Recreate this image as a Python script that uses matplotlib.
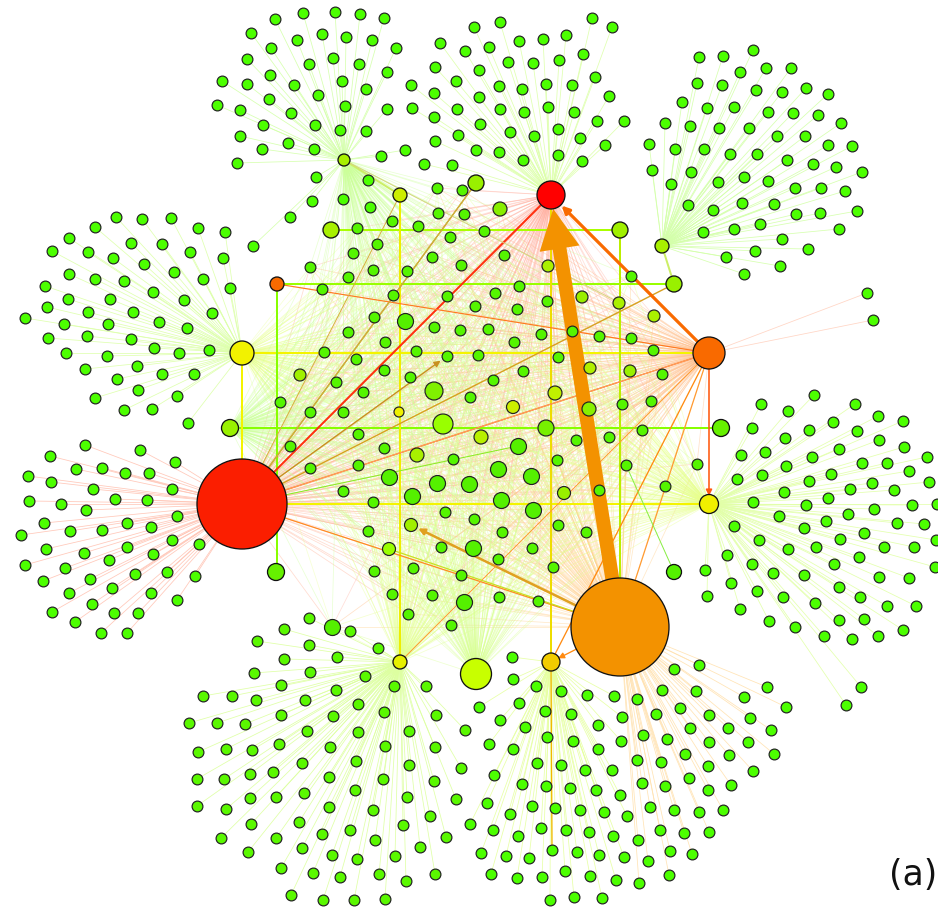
import matplotlib
matplotlib.use("Agg")
import matplotlib.pyplot as plt
from matplotlib.collections import LineCollection
from matplotlib.patches import FancyArrowPatch

DPI = 100
W, H = 938, 907

# hub nodes (pixel coordinates, y pointing down)
hub_names = ["red_big", "orange_big", "red_top", "orange_right", "orange_small",
             "yellow_left", "yellow_right", "yellow_bottom", "yg_big", "gold",
             "tl_hub", "tr_hub", "g400", "g476", "g331", "g620", "g674",
             "g230", "g721", "g276", "g674b"]
hub_x = [242, 620, 551, 709, 277, 242, 709, 400, 476, 551,
         344, 662, 400, 476, 331, 620, 674, 230, 721, 276, 674]
hub_y = [504, 627, 195, 353, 284, 353, 504, 662, 674, 662,
         160, 246, 195, 183, 230, 230, 284, 428, 428, 572, 572]
hub_r = [45, 49, 14, 16, 7, 12, 9.5, 7, 15.5, 9,
         6, 7, 7, 8, 8, 8, 8, 8.5, 8.5, 8.5, 7.5]
hub_color = ["#fb1e00", "#f39200", "#ff0000", "#f96a00", "#f96a00",
             "#f2f200", "#f0f000", "#e6f000", "#c8ff00", "#f2cc00",
             "#a8f000", "#a8f000", "#ccee00", "#99f000", "#a8f000", "#a0f000",
             "#99f000", "#99f000", "#66f000", "#66f000", "#55f000"]

# leaf clusters
tl_leaves = [(275, 19), (303, 13), (251, 33), (297, 40), (271, 48), (247, 59), (309, 64), (270, 75),
             (294, 85), (222, 81), (247, 84), (269, 99), (318, 95), (217, 105), (240, 110), (291, 113),
             (263, 125), (315, 125), (240, 136), (288, 143), (262, 149), (314, 149), (237, 163),
             (316, 177), (312, 201), (290, 217), (253, 246), (335, 12), (360, 14), (384, 18), (322, 34),
             (346, 37), (372, 40), (396, 48), (333, 58), (359, 64), (387, 72), (342, 81), (366, 89),
             (345, 106), (387, 109), (340, 130), (366, 131), (368, 180), (343, 199), (370, 207),
             (381, 156), (405, 150)]
tm_leaves = [(474, 27), (500, 22), (592, 18), (612, 27), (440, 43), (465, 51), (489, 47), (519, 41),
             (543, 39), (566, 35), (435, 67), (479, 70), (508, 62), (533, 63), (559, 60), (583, 54),
             (411, 85), (434, 93), (456, 81), (499, 86), (522, 89), (546, 84), (572, 85), (595, 77),
             (412, 108), (434, 117), (457, 109), (479, 97), (500, 109), (524, 112), (548, 107),
             (574, 112), (609, 96), (435, 141), (458, 135), (480, 124), (510, 132), (534, 136),
             (558, 129), (580, 138), (597, 121), (624, 121), (605, 145), (476, 150), (499, 152),
             (523, 160), (558, 155), (582, 161), (424, 164), (452, 165)]
tr_leaves = [(699, 57), (723, 56), (753, 50), (697, 83), (722, 85), (740, 72), (766, 68), (791, 68),
             (682, 102), (707, 108), (734, 107), (756, 90), (782, 92), (806, 88), (828, 94), (665, 123),
             (690, 126), (719, 128), (749, 128), (768, 112), (793, 113), (818, 115), (841, 123),
             (649, 144), (675, 149), (704, 149), (730, 154), (757, 154), (777, 136), (805, 136),
             (828, 145), (852, 146), (652, 170), (671, 184), (691, 172), (718, 182), (744, 177),
             (768, 181), (787, 160), (813, 164), (836, 167), (862, 172), (688, 205), (713, 210),
             (742, 203), (774, 204), (795, 188), (821, 188), (845, 191), (703, 232), (734, 229),
             (760, 224), (796, 214), (820, 213), (857, 211), (839, 229), (782, 239), (755, 251),
             (808, 249), (726, 257), (780, 266), (744, 274)]
lu_leaves = [(116, 217), (142, 219), (171, 218), (95, 227), (198, 228), (225, 232), (69, 238),
             (131, 243), (162, 244), (52, 251), (88, 252), (190, 252), (113, 258), (223, 258),
             (144, 264), (174, 272), (69, 274), (95, 279), (124, 281), (203, 279), (45, 286),
             (230, 288), (68, 299), (153, 292), (110, 299), (184, 300), (47, 307), (25, 318),
             (88, 312), (133, 312), (159, 322), (212, 313), (64, 324), (108, 324), (187, 328),
             (48, 338), (87, 336), (131, 339), (66, 353), (107, 356), (154, 348), (179, 353),
             (209, 350), (85, 369), (137, 366), (117, 379), (162, 374), (194, 374), (95, 398),
             (138, 390), (177, 396), (124, 410), (152, 409), (188, 423)]
ll_leaves = [(85, 445), (140, 450), (50, 456), (175, 462), (76, 469), (102, 468), (125, 473),
             (149, 473), (28, 476), (51, 482), (93, 489), (172, 489), (29, 501), (61, 504),
             (115, 499), (147, 500), (86, 510), (44, 523), (127, 523), (177, 516), (70, 531),
             (102, 530), (151, 527), (21, 535), (46, 549), (84, 553), (127, 547), (172, 540),
             (199, 544), (153, 554), (25, 565), (65, 568), (109, 560), (43, 581), (90, 579),
             (135, 574), (167, 572), (195, 576), (69, 593), (112, 588), (151, 593), (177, 600),
             (92, 604), (52, 612), (114, 613), (138, 613), (75, 622), (101, 633), (127, 633)]
bl_leaves = [(309, 618), (284, 629), (257, 641), (309, 645), (284, 659), (254, 673), (310, 672),
             (281, 685), (203, 696), (232, 696), (256, 700), (305, 700), (189, 723), (217, 723),
             (245, 724), (281, 715), (307, 731), (198, 752), (226, 749), (252, 750), (279, 744),
             (302, 763), (197, 779), (224, 779), (250, 774), (273, 772), (304, 793), (197, 806),
             (226, 809), (250, 798), (276, 797), (299, 822), (221, 838), (251, 824), (276, 838),
             (302, 848), (248, 852), (281, 868), (291, 895), (350, 631), (378, 648), (337, 657),
             (365, 676), (394, 686), (426, 686), (336, 690), (358, 704), (384, 712), (436, 715),
             (333, 716), (358, 732), (409, 731), (465, 730), (330, 747), (385, 746), (435, 747),
             (356, 761), (409, 765), (461, 768), (329, 777), (383, 779), (434, 781), (355, 790),
             (407, 797), (456, 799), (329, 807), (373, 810), (430, 816), (403, 825), (350, 830),
             (322, 834), (375, 840), (446, 837), (420, 847), (332, 855), (357, 859), (395, 856),
             (313, 873), (340, 877), (379, 874), (406, 881), (435, 874), (323, 900), (354, 900),
             (385, 899)]
br_leaves = [(512, 657), (513, 679), (479, 707), (519, 703), (536, 686), (561, 691), (587, 695),
             (614, 696), (500, 720), (525, 727), (545, 711), (571, 714), (598, 725), (622, 717),
             (489, 744), (513, 749), (547, 737), (573, 741), (598, 749), (621, 741), (494, 775),
             (537, 763), (561, 765), (585, 770), (612, 770), (522, 784), (546, 786), (570, 788),
             (596, 790), (620, 795), (487, 803), (510, 814), (532, 806), (555, 808), (580, 810),
             (604, 812), (627, 816), (470, 824), (493, 830), (518, 836), (541, 828), (566, 830),
             (589, 832), (613, 836), (481, 853), (506, 856), (529, 858), (552, 850), (577, 852),
             (599, 855), (624, 857), (491, 874), (517, 878), (542, 877), (565, 871), (590, 876),
             (616, 880), (550, 900), (574, 897), (602, 898)]
ob_leaves = [(699, 665), (674, 669), (767, 687), (662, 690), (696, 691), (744, 697), (786, 707),
             (637, 699), (680, 708), (656, 714), (709, 715), (750, 718), (690, 728), (728, 728),
             (771, 730), (643, 735), (667, 739), (709, 742), (748, 742), (685, 754), (729, 755),
             (774, 754), (637, 760), (661, 762), (708, 766), (753, 771), (642, 783), (665, 786),
             (689, 778), (708, 790), (731, 785), (650, 807), (674, 810), (699, 812), (723, 810),
             (660, 830), (684, 833), (709, 832), (638, 840), (670, 851), (692, 854), (648, 861),
             (669, 875), (639, 883)]
r_leaves = [(814, 395), (855, 404), (761, 404), (788, 411), (878, 416), (903, 421), (752, 428),
            (785, 438), (809, 430), (833, 422), (857, 431), (879, 440), (904, 447), (927, 457),
            (741, 455), (765, 452), (786, 466), (812, 457), (839, 449), (862, 463), (887, 463),
            (909, 471), (929, 482), (737, 479), (762, 475), (809, 481), (831, 474), (850, 489),
            (872, 483), (894, 490), (753, 502), (784, 492), (806, 505), (828, 498), (848, 514),
            (874, 509), (912, 505), (937, 504), (734, 526), (779, 516), (804, 528), (826, 521),
            (864, 533), (897, 523), (924, 524), (759, 540), (788, 549), (816, 547), (840, 539),
            (859, 557), (884, 547), (914, 547), (936, 540), (727, 555), (752, 564), (773, 573),
            (804, 575), (834, 564), (879, 577), (909, 578), (935, 567), (705, 570), (731, 583),
            (757, 591), (783, 597), (815, 603), (839, 587), (860, 597), (887, 606), (916, 606),
            (707, 596), (740, 609), (769, 621), (795, 627), (824, 636), (839, 620), (852, 639),
            (864, 619), (878, 636), (903, 630), (861, 687), (846, 705)]
far_leaves = [(867, 293), (873, 320)]

cluster_leaves = [tl_leaves, tm_leaves, tr_leaves, lu_leaves, ll_leaves, bl_leaves,
                  br_leaves, ob_leaves, r_leaves, far_leaves]
cluster_hub = ["tl_hub", "red_top", "tr_hub", "yellow_left", "red_big", "yellow_bottom",
               "gold", "orange_big", "yellow_right", "orange_right"]
cluster_edge = ["#d4ffaa", "#ddffaa", "#d4ffaa", "#ddffaa", "#ffc4b4", "#ddffa0",
                "#e6ffa0", "#ffe2b0", "#e2ffa8", "#ffd2c0"]
cluster_fill = ["#4cff00", "#4cff00", "#4cff00", "#4cff00", "#4cff00", "#5af800",
                "#4cff00", "#4cff00", "#4cff00", "#4cff00"]

# central nodes
center_small = [(437, 188), (462, 190), (438, 213), (464, 214), (357, 228), (353, 253), (377, 244),
                (310, 267), (348, 277), (373, 270), (407, 271), (432, 257), (392, 221), (418, 226),
                (450, 237), (484, 231), (461, 265), (504, 255), (322, 289), (393, 295), (447, 296),
                (495, 293), (519, 286), (547, 301), (475, 306), (517, 309), (631, 276), (374, 317),
                (434, 327), (460, 330), (488, 329), (541, 334), (572, 331), (599, 336), (348, 332),
                (385, 342), (514, 342), (324, 352), (356, 359), (416, 351), (447, 356), (478, 355),
                (558, 357), (384, 370), (410, 377), (493, 380), (523, 371), (336, 382), (363, 392),
                (470, 397), (343, 412), (358, 434), (576, 440), (609, 437), (384, 448), (453, 459),
                (557, 460), (626, 465), (358, 465), (343, 491), (599, 490), (373, 502), (445, 512),
                (474, 519), (368, 531), (502, 532), (558, 525), (586, 532), (441, 547), (532, 548),
                (498, 559), (374, 571), (413, 568), (461, 575), (553, 567), (392, 594), (432, 595),
                (499, 597), (538, 601), (310, 412), (310, 468), (280, 402), (290, 446),
                (653, 350), (662, 374), (631, 338), (651, 401), (642, 430), (697, 464), (665, 486),
                (408, 614), (451, 625), (622, 404)]
center_large = [(405, 321), (518, 446), (498, 469), (437, 483), (469, 484), (412, 496), (531, 476),
                (501, 500), (533, 510), (389, 477), (473, 548), (464, 602), (332, 627)]
center_tint = [(399, 412), (513, 407), (555, 393), (481, 437), (417, 455), (590, 368), (589, 409),
               (411, 525), (564, 493), (500, 209), (548, 266), (582, 297), (619, 303), (630, 371),
               (654, 316), (389, 549), (434, 391), (443, 424), (546, 428), (300, 375)]
center_tint_color = ["#eef000", "#ccee00", "#c0f000", "#b8f000", "#a8f000", "#b0f000", "#88f000",
                     "#a0f000", "#99f000", "#88ee00", "#aaf000", "#99ee00", "#aaf000", "#99f000",
                     "#aaf000", "#99ff00", "#80f000", "#99ff00", "#77f000", "#a0f000"]
center_tint_r = [5, 6.5, 7, 7, 7, 6, 7, 6.5, 6.5, 7, 6, 6, 6, 6, 6, 6.5, 9, 10, 8, 6]

mesh_hubs = ["red_big", "orange_big", "orange_right", "red_top", "yellow_left",
             "yellow_right", "yellow_bottom", "yg_big", "tl_hub", "g230"]
mesh_color = ["#ffb49a", "#ffd08c", "#ffc08c", "#ffb0a0", "#e8ff8c",
              "#e8ff8c", "#e4ff90", "#d8ff90", "#ccff99", "#ccff99"]
mesh_alpha = [0.45, 0.45, 0.45, 0.4, 0.35, 0.4, 0.4, 0.4, 0.4, 0.4]

# grid of brighter hub-to-hub lines
grid_from = ["g331", "orange_small", "yellow_left", "g230", "red_big", "g400", "red_top",
             "yellow_left", "orange_small", "g620", "tl_hub", "tr_hub"]
grid_to = [(620, 230), (674, 284), (709, 353), (721, 428), (709, 504), (400, 662), (551, 662),
           (242, 504), (277, 572), (620, 627), (400, 195), (674, 284)]
grid_color = ["#aaff00", "#99ff00", "#f4f400", "#88ff00", "#f4f400", "#eeee00", "#eedd00",
              "#f4f400", "#88ff00", "#bbee00", "#ccee66", "#ccee66"]

# coloured directed / highlighted edges
strong_from = ["red_big", "red_big", "red_big", "red_big", "red_big", "red_big", "red_big",
               "orange_right", "orange_right", "orange_right", "orange_big", "orange_big",
               "orange_big", "yellow_bottom", "gold", "orange_big", "red_big", "tl_hub",
               "g476", "orange_right", "g674b"]
strong_to = [(551, 195), (476, 183), (674, 284), (447, 356), (709, 353), (620, 627), (518, 446),
             (551, 662), (277, 284), (709, 504), (411, 525), (551, 662), (709, 353),
             (709, 353), (552, 850), (389, 549), (400, 195), (620, 303), (242, 504), (242, 504),
             (626, 465)]
strong_color = ["#ff3010", "#c8a020", "#d8a020", "#c89020", "#ff6a10", "#ff8a20", "#88ee22",
                "#ff8a10", "#ff7a20", "#ff5a10", "#e0a020", "#ff8a10", "#ff9a30",
                "#ff9a30", "#f2b800", "#c8e020", "#d8b040", "#d8d080", "#d0b040", "#ffa060",
                "#88ee44"]
strong_w = [2.0, 1.4, 1.4, 1.4, 1.2, 1.2, 1.0, 1.3, 1.2, 1.6, 2.5, 1.3, 1.2,
            1.0, 1.3, 1.2, 1.0, 0.9, 1.0, 1.0, 1.0]
strong_arrow = [False, False, False, True, False, True, False, False, False, True, True, True,
                False, False, False, False, False, False, False, False, False]


def px(v):
    return v * 72.0 / DPI


def size(r):
    return (2 * r * 72.0 / DPI) ** 2


hub_pos = {n: (x, y) for n, x, y in zip(hub_names, hub_x, hub_y)}
hub_rad = {n: r for n, r in zip(hub_names, hub_r)}

fig = plt.figure(figsize=(W / DPI, H / DPI), dpi=DPI)
ax = fig.add_axes([0, 0, 1, 1])
ax.set_xlim(0, W)
ax.set_ylim(H, 0)
ax.axis("off")

# faint leaf edges
for leaves, hub, ec in zip(cluster_leaves, cluster_hub, cluster_edge):
    segs = [[hub_pos[hub], p] for p in leaves]
    ax.add_collection(LineCollection(segs, colors=ec, linewidths=px(0.8), alpha=0.9, zorder=1))

# faint mesh edges from centre nodes to the main hubs
centre_all = center_small + center_large + center_tint
for hub, ec, al in zip(mesh_hubs, mesh_color, mesh_alpha):
    segs = [[hub_pos[hub], p] for p in centre_all]
    ax.add_collection(LineCollection(segs, colors=ec, linewidths=px(0.8), alpha=al, zorder=1))

# grid lines
segs = [[hub_pos[a], b] for a, b in zip(grid_from, grid_to)]
ax.add_collection(LineCollection(segs, colors=grid_color, linewidths=px(2.0), zorder=2))

# highlighted edges
for a, b, c, w, arr in zip(strong_from, strong_to, strong_color, strong_w, strong_arrow):
    pa = hub_pos[a]
    if arr:
        ax.add_patch(FancyArrowPatch(pa, b, arrowstyle="-|>", mutation_scale=9,
                                     color=c, lw=px(w), shrinkA=0, shrinkB=px(8), zorder=3))
    else:
        ax.plot([pa[0], b[0]], [pa[1], b[1]], color=c, lw=px(w), zorder=3)

# big arrow orange_big -> red_top, and orange_right -> red_top
ax.add_patch(FancyArrowPatch(hub_pos["orange_big"], hub_pos["red_top"],
                             arrowstyle="simple,head_length=1.45,head_width=1.45,tail_width=0.5",
                             mutation_scale=20, color="#f39200", lw=0,
                             shrinkA=0, shrinkB=px(hub_rad["red_top"]), zorder=3.5))
ax.add_patch(FancyArrowPatch(hub_pos["orange_right"], hub_pos["red_top"],
                             arrowstyle="-|>", mutation_scale=11, color="#f96a00",
                             lw=px(3.2), shrinkA=px(16), shrinkB=px(15), zorder=3.5))

# leaves
for leaves, fc in zip(cluster_leaves, cluster_fill):
    xs = [p[0] for p in leaves]
    ys = [p[1] for p in leaves]
    ax.scatter(xs, ys, s=size(5.4), c=fc, edgecolors="#222222", linewidths=px(1.2), zorder=4)

ax.scatter([p[0] for p in center_small], [p[1] for p in center_small], s=size(5.4),
           c="#55f500", edgecolors="#222222", linewidths=px(1.2), zorder=4)
ax.scatter([p[0] for p in center_large], [p[1] for p in center_large], s=size(8),
           c="#55f000", edgecolors="#222222", linewidths=px(1.2), zorder=4)
ax.scatter([p[0] for p in center_tint], [p[1] for p in center_tint],
           s=[size(r) for r in center_tint_r], c=center_tint_color,
           edgecolors="#222222", linewidths=px(1.2), zorder=4)

# hubs
ax.scatter(hub_x, hub_y, s=[size(r) for r in hub_r], c=hub_color,
           edgecolors="#111111", linewidths=px(1.3), zorder=5)

ax.text(913, 875, "(a)", fontsize=25, ha="center", va="center", color="#111111")

fig.savefig("out.png", dpi=DPI)
